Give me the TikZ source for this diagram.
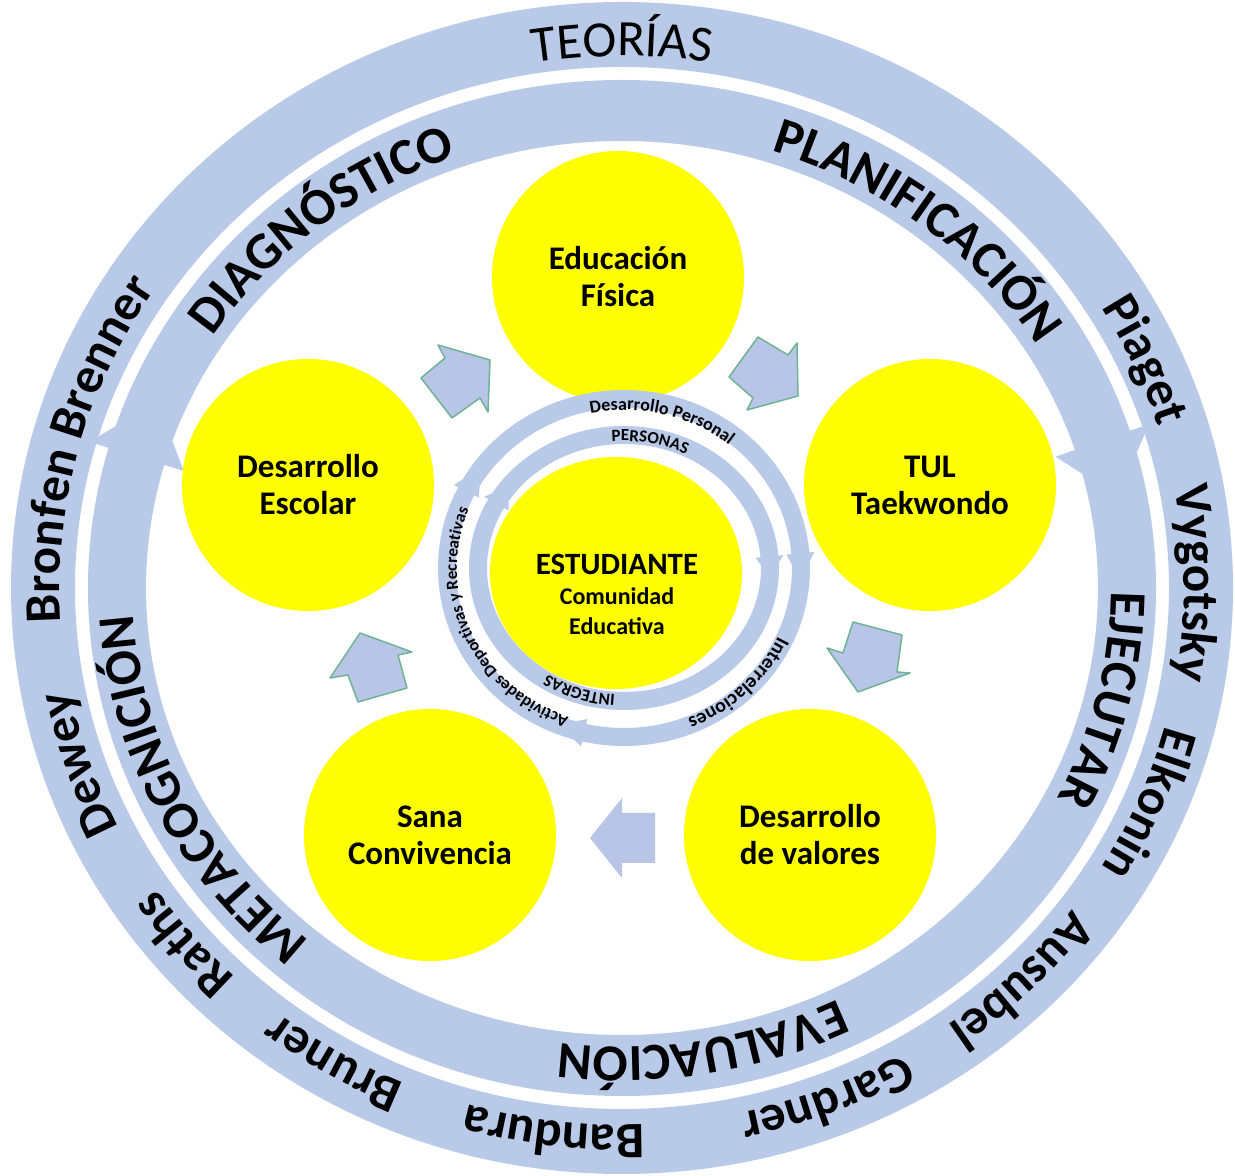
\documentclass[tikz,border=0pt]{standalone}
\usepackage{fontspec}
\setmainfont{Carlito}
\usetikzlibrary{decorations.text,calc,shapes.geometric}
\definecolor{ringblue}{HTML}{B8CAE7}
\definecolor{arrowfill}{HTML}{B9C5E7}
\definecolor{arrowline}{HTML}{6DB394}
\definecolor{bubbleyellow}{HTML}{FFFF00}
\newcommand{\fntOuter}{\fontsize{51}{60}\selectfont\bfseries}
\newcommand{\fntTeo}{\fontsize{51}{60}\selectfont}
\newcommand{\fntInner}{\fontsize{52}{60}\selectfont\bfseries}
\newcommand{\fntSmall}{\fontsize{18}{22}\selectfont\bfseries}
\newcommand{\fntSmallB}{\fontsize{20}{24}\selectfont\bfseries}
\newcommand{\fntTiny}{\fontsize{17}{20}\selectfont\bfseries}
% #1 centre, #2 rx, #3 ry, #4 mid angle, #5 half span, #6 text
\newcommand{\arclabel}[6]{%
  \path[decorate,decoration={text along path,text align=center,text={#6}}]
    ($(#1)+({#4+#5}:#2pt and #3pt)$)
    arc[start angle={#4+#5},end angle={#4-#5},x radius=#2pt,y radius=#3pt];}
\tikzset{
  bubble/.style={circle,fill=bubbleyellow,minimum size=252pt,inner sep=0pt,align=center,
    font=\fontsize{33}{37}\selectfont\bfseries},
  blockarrow/.style={fill=arrowfill,draw=arrowline,line width=1.5pt,line join=round},
  ringfill/.style={fill=ringblue,even odd rule},
}
\begin{document}
\begin{tikzpicture}[x=1pt,y=1pt]
\useasboundingbox (0,0) rectangle (1235,1176);
\fill[white] (0,0) rectangle (1235,1176);
\coordinate (C) at (622,588);
\coordinate (S) at (624,608);
% big rings
\fill[ringfill] (C) ellipse[x radius=611pt,y radius=586pt] (C) ellipse[x radius=547pt,y radius=521pt];
\fill[ringfill] (C) ellipse[x radius=534pt,y radius=508pt] (C) ellipse[x radius=476pt,y radius=447pt];
% big ring arrowheads
\fill[ringblue] ($(C)+(18:554pt and 530pt)$) -- ($(C)+(18:456pt and 425pt)$) -- ($(C)+(11:505pt and 478pt)$) -- cycle;
\fill[ringblue] ($(C)+(164:554pt and 530pt)$) -- ($(C)+(164:456pt and 425pt)$) -- ($(C)+(157:505pt and 478pt)$) -- cycle;
% bubbles
\node[bubble] (edu) at (618,899) {Educación\\Física};
\node[bubble] (tul) at (930,691) {TUL\\Taekwondo};
\node[bubble] (esc) at (308,691) {Desarrollo\\Escolar};
\node[bubble] (sana) at (430,341) {Sana\\Convivencia};
\node[bubble] (val) at (810,341) {Desarrollo\\de valores};
\node[ellipse,fill=bubbleyellow,minimum width=252pt,minimum height=232pt,inner sep=0pt] (est) at (616,603) {};
% block arrows (image coordinates)
\begin{scope}[shift={(0,1176)},yscale=-1]
\draw[blockarrow] (438,345) -- (490,360) -- (488,412) -- (480,398) -- (452,418) -- (421,378) -- (445,358) -- cycle;
\draw[blockarrow] (758,337) -- (788,355) -- (797,343) -- (798,396) -- (747,410) -- (753,398) -- (729,377) -- cycle;
\draw[blockarrow] (853,622) -- (902,635) -- (897,672) -- (910,673) -- (858,692) -- (827,648) -- (843,653) -- cycle;
\fill[arrowfill] (655,813) -- (655,863) -- (622,863) -- (622,878) -- (590,838) -- (622,798) -- (622,813) -- cycle;
\draw[blockarrow] (360,633) -- (412,652) -- (398,655) -- (407,688) -- (358,702) -- (348,675) -- (330,678) -- cycle;
\end{scope}
% small rings
\fill[ringfill] (S) ellipse[x radius=186pt,y radius=178pt] (S) ellipse[x radius=168pt,y radius=160pt];
\fill[ringfill] (S) ellipse[x radius=155pt,y radius=142pt] (S) ellipse[x radius=137pt,y radius=124pt];
% small arrowheads
\fill[ringblue] ($(S)+(5:191pt and 183pt)$) -- ($(S)+(5:163pt and 155pt)$) -- ($(S)+(-4:177pt and 169pt)$) -- cycle;
\fill[ringblue] ($(S)+(-103:191pt and 183pt)$) -- ($(S)+(-103:163pt and 155pt)$) -- ($(S)+(-112:177pt and 169pt)$) -- cycle;
\fill[ringblue] ($(S)+(153:191pt and 183pt)$) -- ($(S)+(153:163pt and 155pt)$) -- ($(S)+(144:177pt and 169pt)$) -- cycle;
\fill[ringblue] ($(S)+(5:160pt and 147pt)$) -- ($(S)+(5:132pt and 119pt)$) -- ($(S)+(-4:146pt and 133pt)$) -- cycle;
\fill[ringblue] ($(S)+(151:160pt and 147pt)$) -- ($(S)+(151:132pt and 119pt)$) -- ($(S)+(142:146pt and 133pt)$) -- cycle;
% centre text
\node[align=center,font=\fontsize{24}{30}\selectfont\bfseries] (esttxt) at (617,582)
  {{\fontsize{31}{34}\selectfont ESTUDIANTE}\\Comunidad\\Educativa};
% outer ring labels
\arclabel{C}{561}{532}{90}{40}{|\fntTeo|TEORÍAS}
\arclabel{C}{562}{537}{24.3}{25}{|\fntOuter|Piaget}
\arclabel{C}{562}{537}{0.5}{25}{|\fntOuter|Vygotsky}
\arclabel{C}{562}{537}{-23}{25}{|\fntOuter|Elkonin}
\arclabel{C}{562}{537}{-45.5}{25}{|\fntOuter|Ausubel}
\arclabel{C}{562}{537}{-68.8}{25}{|\fntOuter|Gardner}
\arclabel{C}{562}{537}{-96.9}{25}{|\fntOuter|Bandura}
\arclabel{C}{562}{537}{-120.4}{25}{|\fntOuter|Bruner}
\arclabel{C}{562}{537}{-139.9}{25}{|\fntOuter|Raths}
\arclabel{C}{562}{537}{198.6}{25}{|\fntOuter|Dewey}
\arclabel{C}{562}{537}{165}{30}{|\fntOuter|Bronfen Brenner}
% inner ring labels
\arclabel{C}{489}{459}{128.6}{32}{|\fntInner|DIAGNÓSTICO}
\arclabel{C}{489}{459}{51.7}{34}{|\fntInner|PLANIFICACIÓN}
\arclabel{C}{489}{459}{-13.7}{28}{|\fntInner|EJECUTAR}
\arclabel{C}{489}{459}{-80.5}{30}{|\fntInner|EVALUACIÓN}
\arclabel{C}{489}{459}{206.5}{36}{|\fntInner|METACOGNICIÓN}
% small ring labels
\arclabel{S}{167}{158}{76}{45}{|\fntSmall|Desarrollo Personal}
\arclabel{S}{170}{162}{-46}{45}{|\fntSmallB|Interrelaciones}
\arclabel{S}{167}{158}{204}{75}{|\fntTiny|Actividades Deportivas y Recreativas}
\arclabel{S}{139}{127}{79}{40}{|\fntTiny|PERSONAS}
\arclabel{S}{139}{127}{-109}{40}{|\fntTiny|INTEGRAS}
\end{tikzpicture}
\end{document}
